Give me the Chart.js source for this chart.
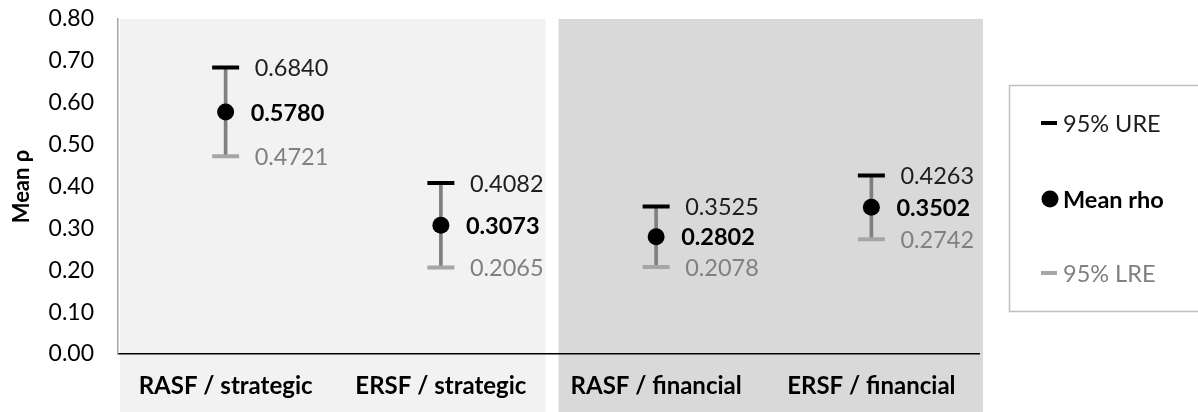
<!DOCTYPE html>
<html>
<head>
<meta charset="utf-8">
<script src="https://cdn.jsdelivr.net/npm/chart.js@4/dist/chart.umd.min.js"></script>
<style>
  html, body { margin: 0; padding: 0; background: #fff; }
  #wrap { width: 1198px; height: 412px; }
</style>
</head>
<body>
<div id="wrap"><canvas id="rhoChart" width="1198" height="412"></canvas></div>
<script>
var categories = ['RASF / strategic', 'ERSF / strategic', 'RASF / financial', 'ERSF / financial'];
var upperRE = [0.6840, 0.4082, 0.3525, 0.4263];
var meanRho = [0.5780, 0.3073, 0.2802, 0.3502];
var lowerRE = [0.4721, 0.2065, 0.2078, 0.2742];
var seriesNames = ['95% URE', 'Mean rho', '95% LRE'];
var yMin = 0, yMax = 0.8, yStep = 0.1;

var FONT = 'Lato, "Open Sans", sans-serif';

// shaded backgrounds behind the strategic and financial pairs
var panelPlugin = {
    id: 'panels',
    beforeDraw: function (chart) {
        var ctx = chart.ctx, x = chart.scales.x, area = chart.chartArea;
        var split = (x.getPixelForValue(1) + x.getPixelForValue(2)) / 2;
        ctx.save();
        ctx.fillStyle = '#f2f2f2';
        ctx.fillRect(area.left + 2, area.top, split - 3 - (area.left + 2), chart.height - area.top);
        ctx.fillStyle = '#d9d9d9';
        ctx.fillRect(split + 10, area.top, area.right + 4 - (split + 10), chart.height - area.top);
        ctx.restore();
    }
};

// numbers next to each cap and mean point
var valueLabels = {
    id: 'valueLabels',
    afterDatasetsDraw: function (chart) {
        var ctx = chart.ctx;
        ctx.save();
        ctx.textBaseline = 'middle';
        ctx.textAlign = 'left';
        chart.data.datasets.forEach(function (ds, i) {
            if (!ds.label_style) return;
            var st = ds.label_style;
            var meta = chart.getDatasetMeta(i);
            ctx.font = st.font;
            ctx.fillStyle = st.color;
            meta.data.forEach(function (pt, j) {
                ctx.fillText(ds.data[j].toFixed(4), pt.x + st.dx, pt.y + 1);
            });
        });
        ctx.restore();
    }
};

// boxed legend on the right
var boxLegend = {
    id: 'boxLegend',
    afterDraw: function (chart) {
        var ctx = chart.ctx, area = chart.chartArea;
        var bx = area.right + 30, by = 85;
        ctx.save();
        ctx.strokeStyle = '#bfbfbf';
        ctx.lineWidth = 1.5;
        ctx.strokeRect(bx + 0.5, by + 0.5, 260, 226);
        var rows = [
            {ds: 1, y: by + 38},
            {ds: 2, y: by + 114},
            {ds: 3, y: by + 188}
        ];
        ctx.textBaseline = 'middle';
        rows.forEach(function (r) {
            var ds = chart.data.datasets[r.ds];
            var mx = bx + 40;
            if (ds.pointStyle === 'line') {
                ctx.strokeStyle = ds.borderColor;
                ctx.lineWidth = ds.pointBorderWidth;
                ctx.beginPath();
                ctx.moveTo(mx - 8, r.y);
                ctx.lineTo(mx + 8, r.y);
                ctx.stroke();
            } else {
                ctx.fillStyle = ds.backgroundColor;
                ctx.beginPath();
                ctx.arc(mx + 1, r.y, 8.5, 0, Math.PI * 2);
                ctx.fill();
            }
            ctx.font = ds.label_style.font;
            ctx.fillStyle = ds.label_style.color;
            ctx.fillText(ds.label, bx + 54, r.y + 1);
        });
        ctx.restore();
    }
};

var rangeData = categories.map(function (c, i) { return [lowerRE[i], upperRE[i]]; });

var chart = new Chart(document.getElementById('rhoChart'), {
    type: 'bar',
    data: {
        labels: categories,
        datasets: [{
            type: 'bar',
            label: 'range',
            data: rangeData,
            backgroundColor: '#7f7f7f',
            barThickness: 3,
            order: 4
        }, {
            type: 'line',
            label: seriesNames[0],
            data: upperRE,
            showLine: false,
            pointStyle: 'line',
            pointRadius: 13.5,
            pointBorderWidth: 4,
            borderColor: '#000000',
            backgroundColor: '#000000',
            order: 1,
            label_style: {font: '23.5px ' + FONT, color: '#1e1e1e', dx: 29}
        }, {
            type: 'line',
            label: seriesNames[1],
            data: meanRho,
            showLine: false,
            pointStyle: 'circle',
            pointRadius: 8.5,
            pointBorderWidth: 0,
            borderColor: '#000000',
            backgroundColor: '#000000',
            order: 2,
            label_style: {font: 'bold 23.5px ' + FONT, color: '#000000', dx: 25}
        }, {
            type: 'line',
            label: seriesNames[2],
            data: lowerRE,
            showLine: false,
            pointStyle: 'line',
            pointRadius: 13.5,
            pointBorderWidth: 4,
            borderColor: '#a6a6a6',
            backgroundColor: '#a6a6a6',
            order: 3,
            label_style: {font: '23.5px ' + FONT, color: '#808080', dx: 29}
        }]
    },
    options: {
        responsive: false,
        animation: false,
        layout: { padding: { top: 0, right: 219, left: 0, bottom: 0 } },
        plugins: {
            legend: { display: false },
            tooltip: { enabled: false }
        },
        scales: {
            x: {
                grid: { display: false, drawTicks: false },
                border: { display: true, color: '#000000', width: 1.5 },
                ticks: {
                    padding: 18,
                    color: '#000000',
                    font: { family: FONT, size: 24, weight: 'bold' }
                },
                afterFit: function (s) { s.height = 58; }
            },
            y: {
                min: yMin,
                max: yMax,
                grid: { display: false, drawTicks: false },
                border: { display: true, color: '#a6a6a6', width: 1.5 },
                ticks: {
                    stepSize: yStep,
                    padding: 24,
                    color: '#000000',
                    font: { family: FONT, size: 23 },
                    callback: function (v) { return v.toFixed(2); }
                },
                title: {
                    display: true,
                    text: 'Mean ρ',
                    color: '#000000',
                    font: { family: FONT, size: 22, weight: 'bold' },
                    padding: { top: 9, bottom: 0 }
                },
                afterFit: function (s) { s.width = 118; s.paddingTop = 19; }
            }
        }
    },
    plugins: [panelPlugin, valueLabels, boxLegend]
});
</script>
</body>
</html>
